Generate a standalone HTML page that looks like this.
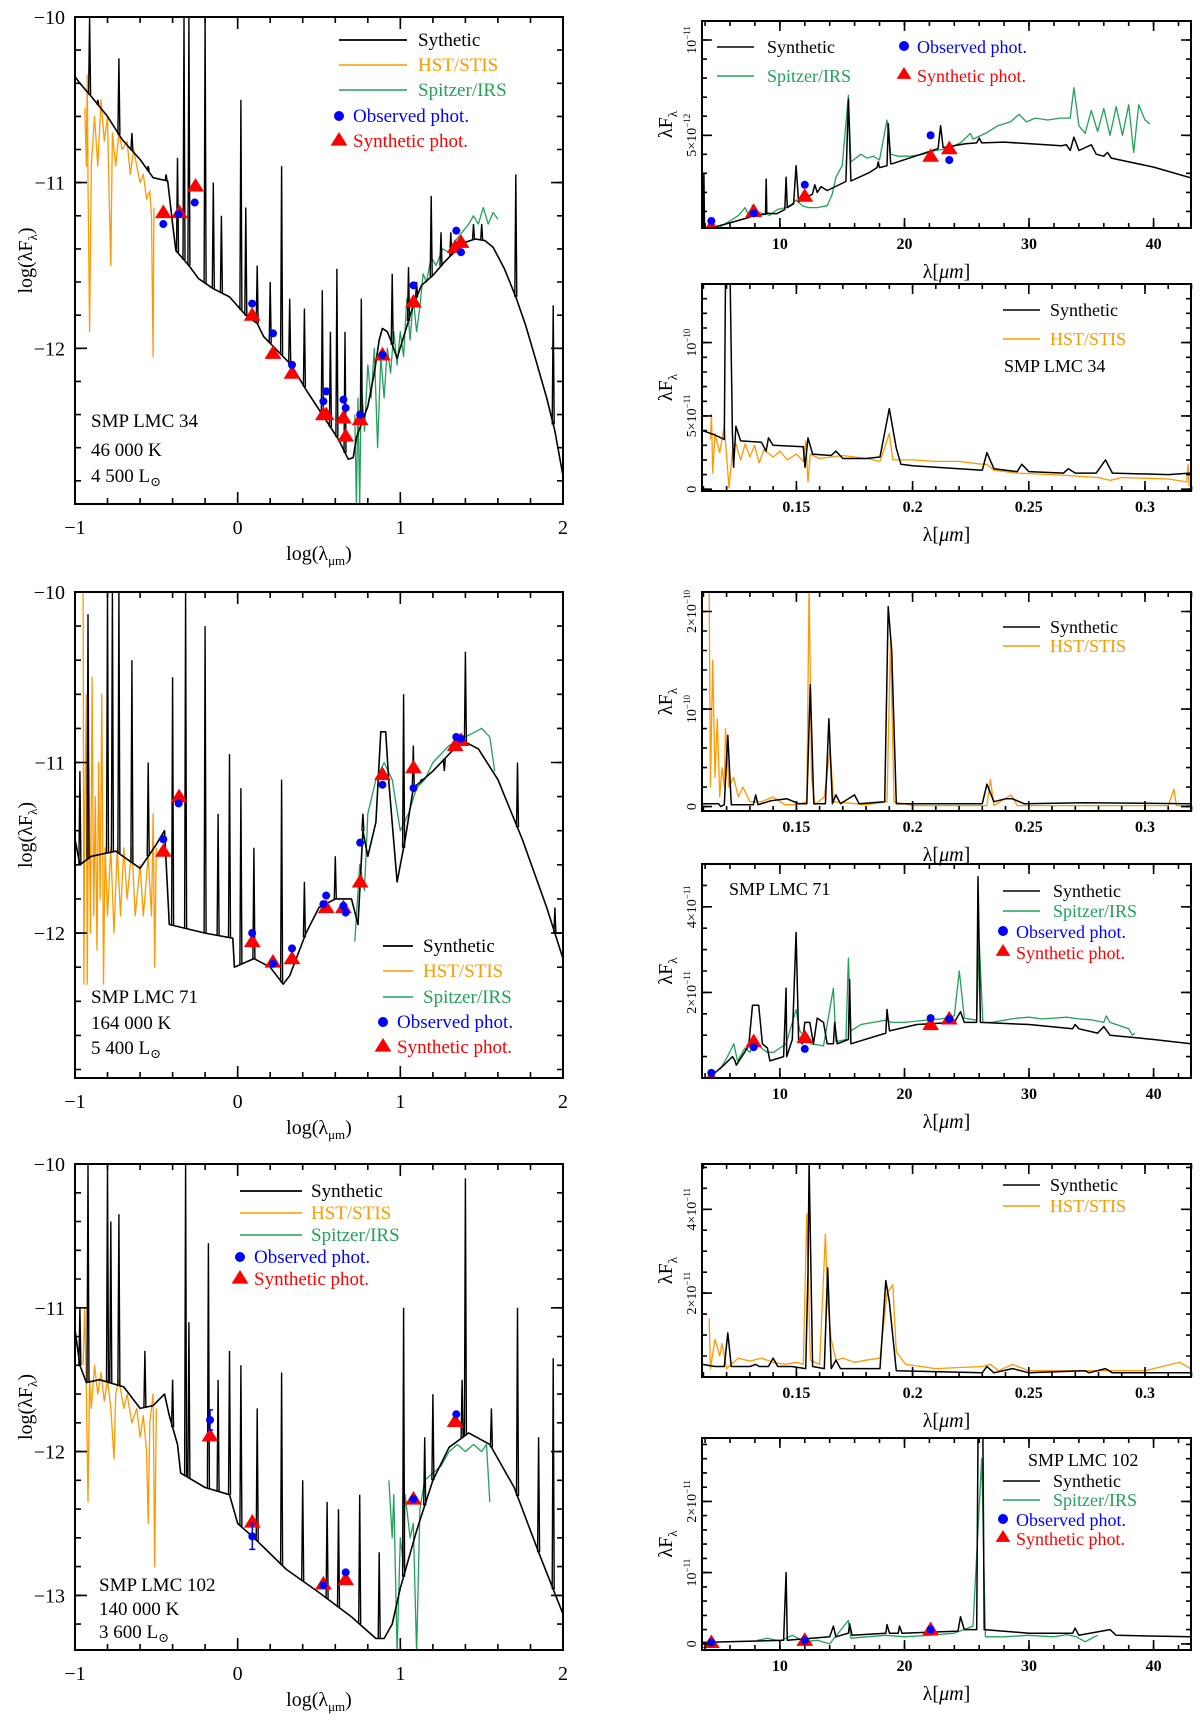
<!DOCTYPE html>
<html><head><meta charset="utf-8"><style>
html,body{margin:0;padding:0;background:#fff}
svg{display:block}
text{font-family:"Liberation Serif","DejaVu Serif",serif}
</style></head><body>
<svg id="fig" width="1200" height="1723" viewBox="0 0 1200 1723" xmlns="http://www.w3.org/2000/svg"></svg>
<script>
// ===== Panel 1: SMP LMC 34 (log-log) =====
const p1Cont=[[-1,-10.36],[-0.97,-10.4],[-0.9,-10.48],[-0.8,-10.6],[-0.71,-10.74],[-0.6,-10.86],[-0.52,-10.97],[-0.43,-10.99],[-0.4,-11.25],[-0.38,-11.41],[-0.3,-11.5],[-0.24,-11.58],[-0.15,-11.64],[-0.05,-11.69],[0.05,-11.8],[0.12,-11.85],[0.16,-11.93],[0.25,-12.02],[0.33,-12.1],[0.42,-12.25],[0.54,-12.43],[0.62,-12.55],[0.68,-12.67],[0.71,-12.66],[0.73,-12.54],[0.8,-12.35],[0.84,-12.15],[0.87,-11.95],[0.89,-11.88],[0.92,-11.9],[0.94,-11.95],[0.98,-12.06],[1.03,-11.9],[1.08,-11.74],[1.13,-11.62],[1.2,-11.56],[1.27,-11.48],[1.34,-11.41],[1.4,-11.36],[1.46,-11.34],[1.52,-11.35],[1.57,-11.39],[1.64,-11.52],[1.71,-11.69],[1.77,-11.86],[1.83,-12.06],[1.9,-12.3],[1.95,-12.5],[2,-12.77]];
const p1Lines=[[-0.91,-10.0],[-0.86,-10.5],[-0.73,-10.25],[-0.65,-10.7],[-0.55,-10.9],[-0.44,-10.95],[-0.37,-10.85],[-0.33,-10.0],[-0.3,-10.0],[-0.2,-10.0],[-0.15,-11.0],[-0.1,-11.2],[0.02,-10.5],[0.05,-11.15],[0.12,-11.5],[0.2,-11.6],[0.27,-10.9],[0.32,-11.7],[0.41,-11.76],[0.52,-11.65],[0.57,-11.9],[0.61,-11.52],[0.66,-11.9],[0.76,-11.7],[0.95,-11.55],[1.05,-11.51],[1.1,-11.6],[1.19,-11.08],[1.25,-11.3],[1.31,-11.3],[1.45,-11.25],[1.5,-11.25],[1.71,-10.95],[1.94,-11.74]];
const p1Hst=[[-0.94,-10.55],[-0.93,-10.9],[-0.925,-10.35],[-0.92,-11.0],[-0.91,-11.9],[-0.9,-10.9],[-0.88,-10.6],[-0.86,-10.9],[-0.84,-10.5],[-0.82,-10.75],[-0.8,-10.6],[-0.79,-11.1],[-0.78,-11.5],[-0.77,-10.7],[-0.75,-10.9],[-0.73,-10.7],[-0.71,-10.8],[-0.68,-10.75],[-0.66,-10.95],[-0.64,-10.8],[-0.62,-10.9],[-0.6,-11.0],[-0.58,-10.95],[-0.56,-11.1],[-0.54,-11.05],[-0.53,-11.2],[-0.52,-12.05],[-0.515,-11.15]];
const p1Irs=[[0.72,-12.4],[0.73,-12.95],[0.74,-12.3],[0.75,-12.95],[0.76,-12.2],[0.78,-12.5],[0.8,-12.1],[0.82,-12.3],[0.84,-12.0],[0.86,-12.6],[0.88,-12.05],[0.9,-12.3],[0.92,-12.0],[0.94,-12.15],[0.96,-11.9],[0.98,-12.1],[1.0,-11.9],[1.02,-12.05],[1.04,-11.7],[1.06,-11.95],[1.08,-11.7],[1.1,-11.9],[1.12,-11.75],[1.14,-11.55],[1.16,-11.6],[1.19,-11.45],[1.22,-11.5],[1.26,-11.4],[1.3,-11.42],[1.34,-11.35],[1.38,-11.3],[1.42,-11.25],[1.45,-11.2],[1.48,-11.25],[1.51,-11.15],[1.54,-11.25],[1.57,-11.18],[1.6,-11.22]];
const p1Obs=[[-0.457,-11.25],[-0.363,-11.19],[-0.264,-11.12],[0.089,-11.73],[0.217,-11.91],[0.334,-12.1],[0.527,-12.32],[0.544,-12.26],[0.65,-12.31],[0.664,-12.36],[0.753,-12.4],[0.89,-12.04],[1.081,-11.62],[1.344,-11.29],[1.373,-11.42]];
const p1Syn=[[-0.457,-11.18],[-0.358,-11.18],[-0.259,-11.02],[0.089,-11.8],[0.217,-12.03],[0.334,-12.15],[0.527,-12.4],[0.544,-12.4],[0.65,-12.42],[0.664,-12.53],[0.753,-12.43],[0.89,-12.04],[1.081,-11.72],[1.337,-11.39],[1.373,-11.36]];
// ===== Panel 2: SMP LMC 71 =====
const p2Cont=[[-1,-11.45],[-0.97,-11.6],[-0.9,-11.55],[-0.75,-11.52],[-0.6,-11.62],[-0.5,-11.48],[-0.45,-11.4],[-0.42,-11.95],[-0.2,-12.0],[-0.03,-12.03],[-0.02,-12.2],[0.1,-12.15],[0.2,-12.2],[0.28,-12.3],[0.32,-12.25],[0.42,-12.0],[0.5,-11.85],[0.6,-11.8],[0.7,-11.8],[0.74,-11.95],[0.77,-11.4],[0.8,-11.55],[0.85,-11.35],[0.88,-10.82],[0.91,-10.82],[0.93,-11.12],[0.98,-11.7],[1.03,-11.45],[1.08,-11.15],[1.2,-11.05],[1.35,-10.9],[1.4,-10.88],[1.48,-10.92],[1.6,-11.1],[1.75,-11.45],[1.9,-11.85],[2,-12.15]];
const p2Lines=[[-0.97,-11.05],[-0.92,-10.13],[-0.8,-10.0],[-0.77,-10.0],[-0.73,-10.0],[-0.65,-10.4],[-0.55,-11.0],[-0.4,-10.5],[-0.32,-10.0],[-0.2,-10.2],[-0.12,-11.3],[-0.05,-10.95],[0.02,-11.15],[0.1,-11.5],[0.27,-11.1],[0.41,-11.7],[0.6,-11.55],[0.77,-11.3],[1.02,-10.6],[1.08,-10.9],[1.13,-11.1],[1.27,-11.05],[1.4,-10.35],[1.72,-11.0],[1.95,-11.85]];
const p2Hst=[[-0.95,-10.0],[-0.945,-12.3],[-0.94,-11.3],[-0.93,-10.6],[-0.925,-12.3],[-0.915,-11.0],[-0.905,-12.0],[-0.895,-10.5],[-0.885,-11.9],[-0.875,-11.2],[-0.865,-12.1],[-0.855,-11.0],[-0.845,-11.8],[-0.835,-10.6],[-0.825,-12.3],[-0.815,-11.5],[-0.8,-11.9],[-0.78,-11.5],[-0.76,-12.0],[-0.74,-11.5],[-0.72,-11.9],[-0.7,-11.5],[-0.68,-11.8],[-0.65,-11.5],[-0.63,-11.9],[-0.6,-11.6],[-0.58,-11.9],[-0.55,-11.55],[-0.53,-11.9],[-0.52,-11.3],[-0.51,-12.2],[-0.5,-11.5]];
const p2Irs=[[0.72,-12.05],[0.75,-11.6],[0.78,-11.75],[0.8,-11.3],[0.85,-11.1],[0.9,-11.0],[0.95,-11.1],[1.0,-11.4],[1.05,-11.3],[1.1,-11.15],[1.15,-11.1],[1.2,-11.0],[1.3,-10.9],[1.4,-10.85],[1.5,-10.8],[1.55,-10.85],[1.58,-11.05]];
const p2Obs=[[-0.457,-11.45],[-0.363,-11.24],[0.089,-12.0],[0.217,-12.18],[0.334,-12.09],[0.527,-11.83],[0.544,-11.78],[0.65,-11.84],[0.664,-11.88],[0.753,-11.47],[0.89,-11.13],[1.081,-11.15],[1.344,-10.85],[1.373,-10.86]];
const p2Syn=[[-0.457,-11.52],[-0.36,-11.2],[0.09,-12.05],[0.217,-12.17],[0.334,-12.15],[0.544,-11.85],[0.65,-11.85],[0.753,-11.7],[0.89,-11.07],[1.081,-11.03],[1.337,-10.9],[1.373,-10.87]];
// ===== Panel 3: SMP LMC 102 =====
const p3Cont=[[-1,-11.15],[-0.97,-11.4],[-0.93,-11.52],[-0.85,-11.5],[-0.7,-11.55],[-0.6,-11.7],[-0.52,-11.68],[-0.45,-11.6],[-0.42,-11.75],[-0.37,-11.95],[-0.35,-12.15],[-0.2,-12.25],[-0.05,-12.3],[0,-12.5],[0.1,-12.6],[0.3,-12.82],[0.5,-12.98],[0.7,-13.15],[0.85,-13.3],[0.9,-13.3],[0.95,-13.2],[1.0,-12.95],[1.1,-12.55],[1.2,-12.2],[1.3,-11.97],[1.42,-11.87],[1.55,-11.95],[1.7,-12.25],[1.85,-12.7],[2,-13.13]];
const p3Lines=[[-0.97,-11.0],[-0.92,-10.0],[-0.8,-10.0],[-0.78,-10.4],[-0.73,-10.35],[-0.57,-11.3],[-0.4,-11.5],[-0.32,-10.0],[-0.3,-11.1],[-0.18,-10.55],[-0.12,-11.5],[-0.05,-11.3],[0.02,-11.4],[0.12,-11.7],[0.27,-11.45],[0.4,-12.2],[0.55,-12.35],[0.62,-12.4],[0.75,-12.3],[0.87,-12.7],[1.02,-11.0],[1.15,-11.9],[1.2,-11.6],[1.38,-11.5],[1.4,-10.1],[1.56,-11.7],[1.72,-11.0],[1.85,-11.9],[1.94,-11.35]];
const p3Hst=[[-0.95,-11.4],[-0.94,-11.0],[-0.93,-11.6],[-0.92,-12.35],[-0.91,-11.5],[-0.9,-11.7],[-0.88,-11.4],[-0.86,-11.6],[-0.84,-11.45],[-0.82,-11.65],[-0.8,-11.5],[-0.78,-11.7],[-0.76,-12.05],[-0.75,-11.6],[-0.73,-11.5],[-0.7,-11.7],[-0.68,-11.6],[-0.65,-11.8],[-0.62,-11.7],[-0.6,-11.9],[-0.58,-11.75],[-0.56,-12.0],[-0.55,-12.5],[-0.54,-11.8],[-0.52,-11.6],[-0.51,-12.8],[-0.5,-11.7]];
const p3Irs=[[0.93,-12.2],[0.95,-12.6],[0.96,-12.3],[0.98,-13.4],[1.0,-12.6],[1.02,-12.8],[1.03,-12.3],[1.06,-12.6],[1.08,-12.5],[1.1,-13.4],[1.12,-12.4],[1.15,-12.2],[1.2,-12.15],[1.25,-12.1],[1.3,-12.0],[1.35,-11.95],[1.4,-12.0],[1.45,-11.95],[1.5,-12.0],[1.53,-11.95],[1.55,-12.35]];
const p3Obs=[[-0.17,-11.78],[0.09,-12.59],[0.527,-12.93],[0.664,-12.84],[1.081,-12.33],[1.344,-11.74]];
const p3Err=[0.07,0.09,0,0,0,0];
const p3Syn=[[-0.17,-11.89],[0.09,-12.49],[0.527,-12.92],[0.664,-12.89],[1.081,-12.33],[1.337,-11.79]];
// ===== Right panels (linear) =====
const r1Syn=[[3.75,0.1],[3.85,0.1],[3.9,3.0],[3.95,0.1],[4.8,0.19],[6,0.4],[7.6,0.7],[7.8,1.3],[7.9,0.79],[8.85,0.85],[8.9,2.7],[8.95,0.9],[9.75,0.88],[10.4,1.1],[10.5,2.8],[10.6,1.2],[11.1,1.4],[11.3,3.4],[11.5,1.5],[11.6,1.54],[12.6,1.9],[12.8,2.4],[13.0,2.0],[13.3,2.3],[13.8,2.1],[15.3,2.57],[15.5,6.9],[15.7,2.6],[17.2,3.05],[17.8,3.3],[17.9,3.6],[18.0,3.3],[18.6,3.4],[18.7,5.6],[18.9,3.5],[19,3.5],[22.1,4.17],[22.7,4.3],[22.9,5.5],[23.1,4.35],[24.9,4.55],[25.8,4.6],[26,4.85],[26.2,4.6],[28,4.64],[30.1,4.55],[32.6,4.45],[33.0,4.5],[33.3,4.2],[33.6,4.9],[34,4.2],[35.0,4.5],[35.4,4.0],[36.0,3.9],[36.3,4.1],[36.6,3.8],[40,3.33],[43,2.76]];
const r1Irs=[[5.2,0.2],[6,0.5],[6.7,0.8],[7.2,1.2],[7.5,0.8],[8,1.0],[8.6,0.9],[9.2,0.8],[9.8,1.1],[10.5,1.2],[11,1.4],[11.3,1.6],[11.8,1.3],[12.3,1.2],[13,1.2],[13.8,1.3],[14.2,1.9],[14.5,2.8],[15.0,3.4],[15.5,7.1],[15.7,3.6],[16.5,4.0],[17,3.8],[17.5,3.9],[18,3.7],[18.6,5.8],[18.9,4.0],[19.5,3.9],[20.5,3.9],[21.5,4.0],[22.5,4.2],[23.5,4.3],[24.5,4.6],[25.3,5.1],[25.5,4.8],[26.5,5.1],[27.5,5.5],[28.5,5.7],[29.2,6.1],[29.8,5.7],[30.5,5.9],[31.5,5.8],[32.5,5.9],[33.3,5.9],[33.6,7.5],[34,5.5],[34.5,5.1],[35,6.3],[35.5,5.2],[36,6.4],[36.5,5.0],[37,6.5],[37.5,5.0],[38,6.6],[38.4,4.1],[38.8,6.6],[39.3,5.8],[39.7,5.6]];
const r1Obs=[[4.5,0.5],[7.9,0.9],[12,2.4],[22.1,5.0],[23.6,3.7]];
const r1SynPhot=[[4.5,0.2],[7.9,1.0],[12,1.8],[22.1,3.9],[23.6,4.3]];
const r2Syn=[[0.1096,4.0],[0.115,3.7],[0.119,3.4],[0.1195,14.5],[0.1215,14.5],[0.1225,3.9],[0.123,1.5],[0.124,4.3],[0.126,3.3],[0.135,3.2],[0.137,2.6],[0.138,3.5],[0.14,3.0],[0.153,2.9],[0.1537,1.5],[0.155,3.5],[0.157,2.4],[0.165,2.3],[0.167,2.6],[0.17,2.1],[0.18,2.1],[0.186,2.2],[0.19,5.5],[0.193,2.8],[0.195,1.7],[0.2,1.6],[0.23,1.3],[0.232,2.5],[0.235,1.4],[0.245,1.2],[0.247,1.7],[0.25,1.2],[0.265,1.1],[0.267,1.4],[0.27,1.1],[0.279,1.1],[0.283,2.0],[0.286,1.1],[0.31,1.0],[0.3195,1.1]];
const r2Hst=[[0.113,3.4],[0.1135,5.1],[0.114,1.1],[0.115,3.8],[0.117,2.5],[0.119,4.3],[0.121,0.1],[0.1225,2.5],[0.124,3.1],[0.126,2.0],[0.128,3.1],[0.13,2.2],[0.132,3.0],[0.134,1.8],[0.136,2.7],[0.14,2.2],[0.143,2.6],[0.146,2.0],[0.15,2.4],[0.153,1.9],[0.154,3.3],[0.155,0.5],[0.156,2.4],[0.16,2.1],[0.165,2.2],[0.17,2.3],[0.175,2.2],[0.18,2.1],[0.186,1.9],[0.19,3.8],[0.1915,2.0],[0.2,2.0],[0.21,1.9],[0.22,1.9],[0.23,1.7],[0.232,1.7],[0.235,1.3],[0.245,1.1],[0.26,1.0],[0.27,0.9],[0.28,0.8],[0.285,0.6],[0.29,0.8],[0.31,0.7],[0.318,0.5],[0.3185,1.7],[0.319,0.2]];
const r3Syn=[[0.1096,0.03],[0.1165,0.03],[0.1175,0.0],[0.119,0.02],[0.1205,0.73],[0.122,0.02],[0.1315,0.02],[0.1325,0.12],[0.1335,0.02],[0.139,0.06],[0.146,0.08],[0.151,0.03],[0.1545,0.03],[0.156,1.25],[0.1575,0.03],[0.1625,0.03],[0.164,0.9],[0.1655,0.03],[0.167,0.12],[0.169,0.03],[0.175,0.12],[0.177,0.03],[0.188,0.05],[0.1895,2.05],[0.191,1.6],[0.193,0.03],[0.23,0.03],[0.232,0.23],[0.235,0.05],[0.24,0.08],[0.243,0.08],[0.248,0.03],[0.274,0.04],[0.3195,0.03]];
const r3Hst=[[0.1125,2.2],[0.113,0.2],[0.114,1.5],[0.115,0.3],[0.116,0.9],[0.117,0.1],[0.118,0.4],[0.119,0.2],[0.1195,0.8],[0.121,0.2],[0.123,0.3],[0.125,0.1],[0.127,0.2],[0.13,0.05],[0.135,0.05],[0.14,0.1],[0.145,0.02],[0.15,0.02],[0.1545,0.05],[0.1555,2.3],[0.1565,0.3],[0.158,0.02],[0.162,0.1],[0.1645,0.6],[0.166,0.05],[0.18,0.02],[0.189,0.05],[0.1905,1.7],[0.192,0.05],[0.2,0.01],[0.232,0.01],[0.2335,0.28],[0.235,0.01],[0.2425,0.12],[0.245,0.01],[0.31,0.01],[0.3125,0.18],[0.3135,0.01],[0.3195,0.01]];
const r4Syn=[[4.3,0],[5.5,0.3],[6.2,0.5],[6.4,0.4],[6.5,0.3],[7.5,0.75],[7.8,1.7],[8.3,1.7],[8.6,0.8],[9.0,0.7],[9.2,0.4],[10.3,0.5],[10.5,2.1],[10.55,0.5],[11,0.9],[11.3,3.4],[11.5,0.9],[11.8,0.8],[12,1.3],[12.4,1.3],[12.7,0.8],[13,1.4],[13.5,1.3],[13.8,0.8],[14.3,0.8],[14.4,1.3],[14.6,0.8],[15.5,0.9],[15.6,2.3],[15.7,0.8],[18.5,1.05],[18.6,1.6],[18.8,1.1],[21,1.25],[24,1.3],[24.5,1.55],[24.8,1.3],[25.8,1.3],[25.9,4.7],[26.1,1.3],[30,1.25],[33.5,1.15],[33.7,1.25],[34,1.15],[35.5,1.05],[36,1.2],[36.5,1.0],[40,0.9],[43,0.8]];
const r4Irs=[[5.2,0.2],[5.8,0.5],[6.3,0.8],[6.6,0.4],[7.2,0.7],[7.6,0.6],[8,0.9],[8.5,0.7],[9,0.6],[9.5,0.6],[10,0.7],[10.5,0.8],[11.3,1.6],[11.6,1.1],[12.5,0.8],[13.5,0.75],[14.3,2.1],[14.5,0.85],[15.3,0.9],[15.5,2.8],[15.7,1.1],[16.5,1.25],[17.5,1.3],[18.5,1.35],[19,1.3],[20,1.3],[21,1.33],[22,1.36],[23,1.38],[24,1.45],[24.4,2.5],[24.8,1.4],[25.8,1.35],[26,3.2],[26.3,1.3],[27,1.3],[28,1.35],[29,1.4],[30,1.42],[31,1.38],[32,1.4],[33,1.42],[34,1.38],[35,1.36],[36,1.3],[36.2,1.45],[36.5,1.3],[37,1.25],[38,1.15],[38.3,1.0],[38.5,1.05]];
const r4Obs=[[4.5,0.12],[7.9,0.72],[12,0.68],[22.1,1.4],[23.6,1.38]];
const r4SynPhot=[[4.5,0],[7.9,0.85],[12,0.95],[22.1,1.25],[23.6,1.38]];
const r5Syn=[[0.1096,0.3],[0.115,0.25],[0.119,0.25],[0.1205,1.05],[0.122,0.25],[0.13,0.25],[0.1325,0.3],[0.134,0.25],[0.138,0.25],[0.14,0.45],[0.142,0.25],[0.148,0.25],[0.154,0.2],[0.155,2.5],[0.1555,5.1],[0.157,0.25],[0.162,0.2],[0.1635,2.6],[0.165,0.2],[0.167,0.4],[0.169,0.2],[0.186,0.2],[0.1885,2.3],[0.19,1.8],[0.193,0.15],[0.23,0.1],[0.232,0.25],[0.235,0.1],[0.243,0.2],[0.25,0.1],[0.274,0.15],[0.276,0.1],[0.283,0.2],[0.286,0.1],[0.3195,0.1]];
const r5Hst=[[0.1125,1.4],[0.113,0.2],[0.115,0.9],[0.117,0.5],[0.118,0.8],[0.12,0.2],[0.122,0.3],[0.125,0.45],[0.13,0.38],[0.135,0.45],[0.14,0.35],[0.145,0.3],[0.15,0.35],[0.153,0.3],[0.1545,3.9],[0.156,0.4],[0.16,0.3],[0.1625,3.4],[0.1635,1.8],[0.165,0.9],[0.167,0.4],[0.17,0.45],[0.175,0.35],[0.18,0.4],[0.186,0.45],[0.189,2.0],[0.1915,2.2],[0.193,0.6],[0.197,0.3],[0.21,0.2],[0.23,0.25],[0.2335,0.3],[0.237,0.15],[0.243,0.3],[0.25,0.15],[0.26,0.15],[0.28,0.15],[0.3,0.15],[0.315,0.35],[0.3195,0.2]];
const r6Syn=[[3.8,0.02],[10.3,0.05],[10.5,1.0],[10.6,0.05],[14,0.1],[14.3,0.25],[14.5,0.1],[15.5,0.15],[15.6,0.28],[15.8,0.12],[18.5,0.15],[18.6,0.27],[18.8,0.15],[19.5,0.15],[19.6,0.25],[19.8,0.15],[24.3,0.18],[24.5,0.38],[24.8,0.2],[25.8,0.2],[25.9,2.9],[26.3,2.9],[26.4,0.2],[30,0.15],[33.5,0.15],[33.7,0.22],[34,0.12],[36.5,0.2],[37,0.12],[43,0.1]];
const r6Irs=[[8.2,0.05],[9,0.08],[10,0.04],[11,0.12],[12,0.03],[13,0.05],[14,0.0],[15.5,0.33],[15.7,0.08],[17,0.1],[18.5,0.12],[20,0.1],[22,0.12],[24,0.15],[25.5,0.25],[26.2,2.6],[26.5,0.1],[28,0.1],[30,0.12],[32,0.1],[33,0.13],[33.8,0.1],[34.5,0.03],[35.5,0.12]];
const r6Obs=[[4.5,0.02],[12,0.05],[22.1,0.2]];
const r6SynPhot=[[4.5,0.02],[12,0.05],[22.1,0.2]];

const NS="http://www.w3.org/2000/svg";
const svg=document.getElementById('fig');
const BLK="#000",ORG="#ff9900",GRN="#22a05a",BLU="#0000ff",RED="#ff0000";
function el(tag,attrs,parent){const e=document.createElementNS(NS,tag);for(const k in attrs)e.setAttribute(k,attrs[k]);(parent||svg).appendChild(e);return e;}
let clipId=0;
function panel(box,xd,yd,name){
  const g=el('g',{});
  
  
  const id='c'+(clipId++);
  const cp=el('clipPath',{id:id},g);el('rect',{x:box.x0,y:box.y0,width:box.x1-box.x0,height:box.y1-box.y0},cp);
  const sx=v=>box.x0+(v-xd[0])/(xd[1]-xd[0])*(box.x1-box.x0);
  const sy=v=>box.y1-(v-yd[0])/(yd[1]-yd[0])*(box.y1-box.y0);
  const plot=el('g',{'clip-path':'url(#'+id+')'},g);
  return {g,plot,sx,sy,box};
}
function line(P,pts,color,w,name){
  const d=pts.map((p,i)=>(i?'L':'M')+P.sx(p[0]).toFixed(1)+' '+P.sy(p[1]).toFixed(1)).join('');
  const e=el('path',{d:d,fill:'none',stroke:color,'stroke-width':w,'stroke-linejoin':'round'},P.plot);
  
  
}
function interp(pts,x){for(let i=1;i<pts.length;i++){if(x<=pts[i][0]){const a=pts[i-1],b=pts[i];return a[1]+(b[1]-a[1])*(x-a[0])/(b[0]-a[0]);}}return pts[pts.length-1][1];}
function spikes(P,cont,lines,name){
  let d='';
  lines.forEach(l=>{const c=interp(cont,l[0]);d+='M'+(P.sx(l[0])-1).toFixed(1)+' '+P.sy(c).toFixed(1)+'L'+P.sx(l[0]).toFixed(1)+' '+P.sy(l[1]).toFixed(1)+'L'+(P.sx(l[0])+1).toFixed(1)+' '+P.sy(c).toFixed(1);});
  const e=el('path',{d:d,fill:'none',stroke:BLK,'stroke-width':1.4},P.plot);
  
  
}
function tri(parent,x,y,s){return el('path',{d:`M${x} ${y-s}L${x+s*1.05} ${y+s*0.7}L${x-s*1.05} ${y+s*0.7}Z`,fill:RED},parent);}
function points(P,obs,syn,errs,r,s){
  syn.forEach(p=>{const t=tri(P.plot,P.sx(p[0]),P.sy(p[1]),s);
    
    });
  obs.forEach((p,i)=>{const x=P.sx(p[0]),y=P.sy(p[1]);
    if(errs&&errs[i]){const eb=el('path',{d:`M${x} ${P.sy(p[1]-errs[i])}L${x} ${P.sy(p[1]+errs[i])}M${x-3} ${P.sy(p[1]-errs[i])}h6M${x-3} ${P.sy(p[1]+errs[i])}h6`,stroke:BLU,'stroke-width':1.5},P.plot);
      
      }
    const c=el('circle',{cx:x,cy:y,r:r,fill:BLU},P.plot);
    
    });
}
function frame(P){el('rect',{x:P.box.x0,y:P.box.y0,width:P.box.x1-P.box.x0,height:P.box.y1-P.box.y0,fill:'none',stroke:BLK,'stroke-width':2},P.g);}
function ticks(P,axis,lo,hi,step,len){
  let d='';const b=P.box;
  for(let v=Math.ceil(lo/step-1e-6)*step;v<=hi+1e-9;v+=step){
    if(axis==='x'){const x=P.sx(v).toFixed(1);d+=`M${x} ${b.y1}v${-len}M${x} ${b.y0}v${len}`;}
    else{const y=P.sy(v).toFixed(1);d+=`M${b.x0} ${y}h${len}M${b.x1} ${y}h${-len}`;}
  }
  el('path',{d:d,stroke:BLK,'stroke-width':1.6,fill:'none'},P.g);
}
function txt(parent,x,y,s,size,color,name,anchor,extra){
  const t=el('text',Object.assign({x:x,y:y,'font-size':size,fill:color||BLK,'text-anchor':anchor||'start'},extra||{}),parent);
  t.textContent=s;
  
  
  return t;
}
function lum(parent,x,y,s){
  const t=txt(parent,x,y,s+' L',19,BLK,'luminosity-label');
  const sp=el('tspan',{'font-size':13,dy:4},t);sp.textContent='\u2299';
}
// ----- left panels -----
function leftPanel(box,ymin,yTickVals,cont,lines,hst,irs,obs,syn,errs,nm){
  const P=panel(box,[-1,2],[ymin,-10],nm);
  line(P,hst,ORG,1.3,'hst-stis-spectrum');
  line(P,irs,GRN,1.3,'spitzer-irs-spectrum');
  line(P,cont,BLK,1.6,'synthetic-continuum');
  spikes(P,cont,lines,'synthetic-emission-lines');
  points(P,obs,syn,errs,4,8);
  frame(P);
  ticks(P,'x',-1,2,1,12);ticks(P,'x',-1,2,0.2,6);
  ticks(P,'y',ymin,-10,1,12);ticks(P,'y',ymin,-10,0.2,6);
  [-1,0,1,2].forEach(v=>txt(P.g,P.sx(v),box.y1+30,(v<0?'\u2212':'')+Math.abs(v),20,BLK,'x-tick-label','middle'));
  yTickVals.forEach(v=>txt(P.g,box.x0-10,P.sy(-v)+7,'\u2212'+Math.abs(v),20,BLK,'y-tick-label','end'));
  const xl=txt(P.g,(box.x0+box.x1)/2,box.y1+56,'log(\u03bb',20,BLK,'x-axis-title','middle');
  const ts=el('tspan',{'font-size':13,dy:5},xl);ts.textContent='\u03bcm';const ts2=el('tspan',{dy:-5},xl);ts2.textContent=')';
  const yc=(box.y0+box.y1)/2;
  const yl=txt(P.g,32,yc,'log(\u03bbF',20,BLK,'y-axis-title','middle',{transform:`rotate(-90 32 ${yc})`});
  const t3=el('tspan',{'font-size':13,dy:5},yl);t3.textContent='\u03bb';const t4=el('tspan',{dy:-5},yl);t4.textContent=')';
  return P;
}
function legendLeft(P,x0,lineW,tx,rows,labels,fs){
  const colors=[BLK,ORG,GRN,BLU,RED];
  labels.forEach((l,i)=>{const y=rows[i];
    if(i<3){const ln=el('line',{x1:x0,x2:x0+lineW,y1:y-6,y2:y-6,stroke:colors[i],'stroke-width':i==0?1.8:1.4},P.g);
      
      }
    else if(i==3){const c=el('circle',{cx:x0,cy:y-6,r:5,fill:BLU},P.g);
      
      }
    else{const t=tri(P.g,x0,y-7,8);
      
      }
    txt(P.g,i<3?tx:x0+14,y,l,fs,colors[i],'legend-entry');
  });
}
const L1=leftPanel({x0:75,x1:563,y0:17,y1:504},-12.94,[10,11,12],p1Cont,p1Lines,p1Hst,p1Irs,p1Obs,p1Syn,null,'panel-smp-lmc-34-sed');
legendLeft(L1,339,68,418,[46,71,96,122,147],['Sythetic','HST/STIS','Spitzer/IRS','Observed phot.','Synthetic phot.'],19);
txt(L1.g,91,427,'SMP  LMC  34',19,BLK,'object-name');txt(L1.g,91,456,'46 000 K',19,BLK,'temperature-label');lum(L1.g,91,482,'4 500');
const L2=leftPanel({x0:75,x1:563,y0:592,y1:1078},-12.85,[10,11,12],p2Cont,p2Lines,p2Hst,p2Irs,p2Obs,p2Syn,null,'panel-smp-lmc-71-sed');
legendLeft(L2,383,30,423,[952,977,1003,1028,1053],['Synthetic','HST/STIS','Spitzer/IRS','Observed phot.','Synthetic phot.'],19);
txt(L2.g,91,1003,'SMP  LMC  71',19,BLK,'object-name');txt(L2.g,91,1029,'164 000 K',19,BLK,'temperature-label');lum(L2.g,91,1054,'5 400');
const L3=leftPanel({x0:75,x1:563,y0:1164,y1:1650},-13.38,[10,11,12,13],p3Cont,p3Lines,p3Hst,p3Irs,p3Obs,p3Syn,p3Err,'panel-smp-lmc-102-sed');
legendLeft(L3,240,62,311,[1197,1219,1241,1263,1285],['Synthetic','HST/STIS','Spitzer/IRS','Observed phot.','Synthetic phot.'],19);
txt(L3.g,99,1591,'SMP  LMC  102',19,BLK,'object-name');txt(L3.g,99,1615,'140 000 K',19,BLK,'temperature-label');lum(L3.g,99,1638,'3 600');
// ----- right panels -----
function rightPanel(box,kind,yd,nm){
  const xd=kind==='ir'?[3.75,43]:[0.1094,0.3198];
  const P=panel(box,xd,yd,nm);
  P.kind=kind;
  return P;
}
function finishRight(P,yd,yMinor,yMaj,yLabels){
  const b=P.box;frame(P);
  if(P.kind==='ir'){ticks(P,'x',3.75,43,10,10);ticks(P,'x',3.75,43,2,5);
    [10,20,30,40].forEach(v=>txt(P.g,P.sx(v),b.y1+21,String(v),16,BLK,'x-tick-label','middle',{'font-weight':'bold'}));}
  else{ticks(P,'x',0.15,0.3,0.05,10);ticks(P,'x',0.11,0.32,0.01,5);
    [0.15,0.2,0.25,0.3].forEach(v=>txt(P.g,P.sx(v),b.y1+21,String(v),16,BLK,'x-tick-label','middle',{'font-weight':'bold'}));}
  ticks(P,'y',yd[0],yd[1],yMaj,10);ticks(P,'y',yd[0],yd[1],yMinor,5);
  yLabels.forEach(l=>{const y=P.sy(l[0]);const x=b.x0-6;
    const t=txt(P.g,x,y,l[1],14,BLK,'y-tick-label','middle',{transform:`rotate(-90 ${x} ${y})`});
    if(l[2]){const s=el('tspan',{'font-size':9,dy:-6},t);s.textContent=l[2];}});
  const xl=txt(P.g,(b.x0+b.x1)/2,b.y1+50,'\u03bb[',20,BLK,'x-axis-title','middle');
  const m=el('tspan',{'font-style':'italic'},xl);m.textContent='\u03bcm';const m2=el('tspan',{},xl);m2.textContent=']';
  const yc=(b.y0+b.y1)/2;const x=b.x0-30;
  const yl=txt(P.g,x,yc,'\u03bbF',20,BLK,'y-axis-title','middle',{transform:`rotate(-90 ${x} ${yc})`});
  const s=el('tspan',{'font-size':13,dy:5},yl);s.textContent='\u03bb';
}
function legendRight(P,items,fs){
  items.forEach(it=>{
    if(it.type==='line'){const ln=el('line',{x1:it.x,x2:it.x+37,y1:it.y-6,y2:it.y-6,stroke:it.c,'stroke-width':1.5},P.g);
      
      }
    else if(it.type==='dot'){const c=el('circle',{cx:it.x,cy:it.y-7,r:5,fill:BLU},P.g);
      
      }
    else if(it.type==='tri'){const t=tri(P.g,it.x,it.y-8,7);
      
      }
    txt(P.g,it.tx,it.y,it.s,fs,it.c,'legend-entry');
  });
}
const sup11='\u221211',sup12='\u221212',sup10='\u221210';
// R1
let yd=[0.13,11.0];
const R1=rightPanel({x0:702,x1:1191,y0:21,y1:228},'ir',yd,'panel-smp-lmc-34-ir');
line(R1,r1Irs,GRN,1.3,'spitzer-irs-spectrum');line(R1,r1Syn,BLK,1.5,'synthetic-spectrum');points(R1,r1Obs,r1SynPhot,null,4,8);
finishRight(R1,yd,1,5,[[10,'10',sup11],[5,'5\u00d710',sup12]]);
legendRight(R1,[{type:'line',x:717,y:53,c:BLK,tx:767,s:'Synthetic'},{type:'line',x:717,y:82,c:GRN,tx:767,s:'Spitzer/IRS'},{type:'dot',x:904,y:53,c:BLU,tx:917,s:'Observed  phot.'},{type:'tri',x:904,y:82,c:RED,tx:917,s:'Synthetic  phot.'}],18);
// R2
yd=[-0.12,14.0];
const R2=rightPanel({x0:702,x1:1191,y0:284,y1:491},'uv',yd,'panel-smp-lmc-34-uv');
line(R2,r2Hst,ORG,1.3,'hst-stis-spectrum');line(R2,r2Syn,BLK,1.5,'synthetic-spectrum');
finishRight(R2,yd,1,5,[[0,'0'],[5,'5\u00d710',sup11],[10,'10',sup10]]);
legendRight(R2,[{type:'line',x:1003,y:316,c:BLK,tx:1050,s:'Synthetic'},{type:'line',x:1003,y:345,c:ORG,tx:1050,s:'HST/STIS'}],18);
txt(R2.g,1004,372,'SMP  LMC  34',18,BLK,'object-name');
// R3
yd=[-0.045,2.2];
const R3=rightPanel({x0:702,x1:1191,y0:592,y1:811},'uv',yd,'panel-smp-lmc-71-uv');
line(R3,r3Hst,ORG,1.3,'hst-stis-spectrum');line(R3,r3Syn,BLK,1.5,'synthetic-spectrum');
finishRight(R3,yd,0.2,1,[[0,'0'],[1,'10',sup10],[2,'2\u00d710',sup10]]);
legendRight(R3,[{type:'line',x:1003,y:633,c:BLK,tx:1050,s:'Synthetic'},{type:'line',x:1003,y:652,c:ORG,tx:1050,s:'HST/STIS'}],18);
// R4
yd=[0,5.0];
const R4=rightPanel({x0:702,x1:1191,y0:864,y1:1078},'ir',yd,'panel-smp-lmc-71-ir');
line(R4,r4Irs,GRN,1.3,'spitzer-irs-spectrum');line(R4,r4Syn,BLK,1.5,'synthetic-spectrum');points(R4,r4Obs,r4SynPhot,null,4,8);
finishRight(R4,yd,0.5,2,[[2,'2\u00d710',sup11],[4,'4\u00d710',sup11]]);
txt(R4.g,729,895,'SMP  LMC  71',18,BLK,'object-name');
legendRight(R4,[{type:'line',x:1003,y:897,c:BLK,tx:1053,s:'Synthetic'},{type:'line',x:1003,y:917,c:GRN,tx:1053,s:'Spitzer/IRS'},{type:'dot',x:1003,y:938,c:BLU,tx:1016,s:'Observed  phot.'},{type:'tri',x:1003,y:959,c:RED,tx:1016,s:'Synthetic  phot.'}],18);
// R5
yd=[0,5.08];
const R5=rightPanel({x0:702,x1:1191,y0:1164,y1:1377},'uv',yd,'panel-smp-lmc-102-uv');
line(R5,r5Hst,ORG,1.3,'hst-stis-spectrum');line(R5,r5Syn,BLK,1.5,'synthetic-spectrum');
finishRight(R5,yd,0.5,2,[[2,'2\u00d710',sup11],[4,'4\u00d710',sup11]]);
legendRight(R5,[{type:'line',x:1003,y:1191,c:BLK,tx:1050,s:'Synthetic'},{type:'line',x:1003,y:1212,c:ORG,tx:1050,s:'HST/STIS'}],18);
// R6
yd=[-0.086,2.89];
const R6=rightPanel({x0:702,x1:1191,y0:1438,y1:1650},'ir',yd,'panel-smp-lmc-102-ir');
line(R6,r6Irs,GRN,1.3,'spitzer-irs-spectrum');line(R6,r6Syn,BLK,1.5,'synthetic-spectrum');points(R6,r6Obs,r6SynPhot,null,4,8);
finishRight(R6,yd,0.2,1,[[0,'0'],[1,'10',sup11],[2,'2\u00d710',sup11]]);
txt(R6.g,1028,1466,'SMP  LMC  102',18,BLK,'object-name');
legendRight(R6,[{type:'line',x:1003,y:1487,c:BLK,tx:1053,s:'Synthetic'},{type:'line',x:1003,y:1506,c:GRN,tx:1053,s:'Spitzer/IRS'},{type:'dot',x:1003,y:1526,c:BLU,tx:1016,s:'Observed  phot.'},{type:'tri',x:1003,y:1545,c:RED,tx:1016,s:'Synthetic  phot.'}],18);
</script>
</body></html>
